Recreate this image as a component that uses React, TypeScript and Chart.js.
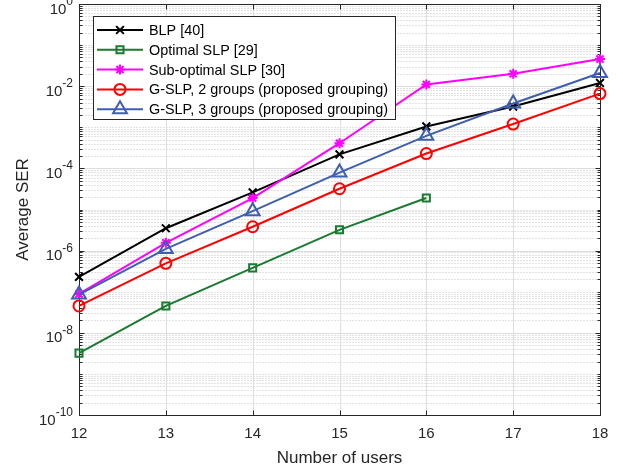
import React, { useEffect, useRef } from "react";
import { Chart, registerables } from "chart.js";
import { drawPoint } from "chart.js/helpers";

Chart.register(...registerables);

const users = [12, 13, 14, 15, 16, 17, 18];
const blp = [2.3e-7, 3.5e-6, 2.6e-5, 2.2e-4, 1.05e-3, 3.2e-3, 1.2e-2];
const optimalSlp = [3.2e-9, 4.5e-8, 3.8e-7, 3.2e-6, 1.9e-5];
const subOptimalSlp = [8.8e-8, 1.55e-6, 1.9e-5, 4.1e-4, 1.1e-2, 2.0e-2, 4.6e-2];
const gslp2 = [4.5e-8, 4.9e-7, 3.8e-6, 3.2e-5, 2.3e-4, 1.2e-3, 6.6e-3];
const gslp3 = [8.5e-8, 1.1e-6, 9.1e-6, 7.9e-5, 6.2e-4, 3.8e-3, 2.1e-2];

const seriesNames = [
  "BLP [40]",
  "Optimal SLP [29]",
  "Sub-optimal SLP [30]",
  "G-SLP, 2 groups (proposed grouping)",
  "G-SLP, 3 groups (proposed grouping)",
];
const xTickLabels = ["12", "13", "14", "15", "16", "17", "18"];
const yLabelExponents = [-10, -8, -6, -4, -2, 0];
const xTitle = "Number of users";
const yTitle = "Average SER";

const FONT = "'Liberation Sans', Arial, Helvetica, sans-serif";
const AXIS = "#262626";

const toPoints = (vals: number[]) => vals.map((v, i) => ({ x: users[i], y: v }));

const gridPlugin = {
  id: "matlabGrid",
  beforeDatasetsDraw(chart: any) {
    const { ctx, chartArea, scales } = chart;
    const { left, right, top, bottom } = chartArea;
    const x = scales.x;
    const y = scales.y;
    const L = Math.round(left) + 0.5;
    const R = Math.round(right) + 0.5;
    const T = Math.round(top) + 0.5;
    const B = Math.round(bottom) + 0.5;
    ctx.save();
    ctx.lineWidth = 1;
    // minor horizontal dotted grid
    ctx.strokeStyle = "#c4c4c4";
    ctx.setLineDash([1, 2]);
    const minorVals: number[] = [];
    for (let e = -10; e < 0; e++) {
      for (let k = 1; k <= 9; k++) {
        if (k === 1 && e % 2 === 0) continue;
        minorVals.push(k * Math.pow(10, e));
      }
    }
    ctx.beginPath();
    for (const v of minorVals) {
      const py = Math.round(y.getPixelForValue(v)) + 0.5;
      ctx.moveTo(L, py);
      ctx.lineTo(R, py);
    }
    ctx.stroke();
    // major grid
    ctx.setLineDash([]);
    ctx.strokeStyle = "#dedede";
    ctx.beginPath();
    for (const e of yLabelExponents) {
      const py = Math.round(y.getPixelForValue(Math.pow(10, e))) + 0.5;
      ctx.moveTo(L, py);
      ctx.lineTo(R, py);
    }
    for (const u of users) {
      const px = Math.round(x.getPixelForValue(u)) + 0.5;
      ctx.moveTo(px, T);
      ctx.lineTo(px, B);
    }
    ctx.stroke();
    // box
    ctx.strokeStyle = AXIS;
    ctx.strokeRect(L, T, R - L, B - T);
    // ticks
    ctx.beginPath();
    for (const u of users) {
      const px = Math.round(x.getPixelForValue(u)) + 0.5;
      ctx.moveTo(px, B);
      ctx.lineTo(px, B - 5);
      ctx.moveTo(px, T);
      ctx.lineTo(px, T + 5);
    }
    for (const e of yLabelExponents) {
      const py = Math.round(y.getPixelForValue(Math.pow(10, e))) + 0.5;
      ctx.moveTo(L, py);
      ctx.lineTo(L + 5, py);
      ctx.moveTo(R, py);
      ctx.lineTo(R - 5, py);
    }
    for (const v of minorVals) {
      const py = Math.round(y.getPixelForValue(v)) + 0.5;
      ctx.moveTo(L, py);
      ctx.lineTo(L + 3, py);
      ctx.moveTo(R, py);
      ctx.lineTo(R - 3, py);
    }
    ctx.stroke();

    // tick labels
    ctx.fillStyle = AXIS;
    ctx.font = `15px ${FONT}`;
    ctx.textAlign = "center";
    ctx.textBaseline = "alphabetic";
    users.forEach((u, i) => {
      const px = x.getPixelForValue(u);
      ctx.fillText(xTickLabels[i], px, bottom + 23);
    });
    ctx.textAlign = "left";
    for (const e of yLabelExponents) {
      const py = y.getPixelForValue(Math.pow(10, e));
      const sup = `${e}`;
      ctx.font = `12px ${FONT}`;
      const supW = ctx.measureText(sup).width;
      ctx.font = `15px ${FONT}`;
      const baseW = ctx.measureText("10").width;
      const endX = left - 6;
      ctx.fillText("10", endX - supW - baseW, py + 9.5);
      ctx.font = `12px ${FONT}`;
      ctx.fillText(sup, endX - supW, py + 1);
    }
    // axis titles
    ctx.font = `17px ${FONT}`;
    ctx.textAlign = "center";
    ctx.fillText(xTitle, (left + right) / 2, bottom + 48);
    ctx.save();
    ctx.translate(23, (top + bottom) / 2);
    ctx.rotate(-Math.PI / 2);
    ctx.textBaseline = "middle";
    ctx.fillText(yTitle, 0, 0);
    ctx.restore();
    ctx.restore();
  },
};

const legendPlugin = {
  id: "matlabLegend",
  afterDatasetsDraw(chart: any) {
    const { ctx } = chart;
    const bx = 93.5, by = 16.5, bw = 302, bh = 103;
    ctx.save();
    ctx.fillStyle = "#ffffff";
    ctx.fillRect(bx, by, bw, bh);
    ctx.strokeStyle = AXIS;
    ctx.lineWidth = 1;
    ctx.setLineDash([]);
    ctx.strokeRect(bx, by, bw, bh);
    chart.data.datasets.forEach((ds: any, i: number) => {
      const yc = 30 + i * 19.8;
      ctx.strokeStyle = ds.borderColor;
      ctx.lineWidth = 2;
      ctx.beginPath();
      ctx.moveTo(97, yc);
      ctx.lineTo(143, yc);
      ctx.stroke();
      ctx.fillStyle = "rgba(0,0,0,0)";
      ctx.lineWidth = ds.pointBorderWidth;
      drawPoint(ctx, { pointStyle: ds.pointStyle, radius: ds.pointRadius, rotation: 0, borderWidth: ds.pointBorderWidth }, 120, yc);
      ctx.fillStyle = "#000000";
      ctx.font = `14.4px ${FONT}`;
      ctx.textAlign = "left";
      ctx.textBaseline = "middle";
      ctx.fillText(seriesNames[i], 149, yc + 1);
    });
    ctx.restore();
  },
};

const colors = ["#000000", "#1a7a30", "#ff00ff", "#ff0000", "#3f5fae"];
const styles = ["crossRot", "rect", "star", "circle", "triangle"];
const radii = [5.5, 5, 5, 5.5, 8];
const seriesData = [blp, optimalSlp, subOptimalSlp, gslp2, gslp3];

export default function App() {
  const ref = useRef<HTMLCanvasElement>(null);
  useEffect(() => {
    if (!ref.current) return;
    const chart = new Chart(ref.current, {
      type: "line",
      data: {
        datasets: seriesData.map((vals, i) => ({
          label: seriesNames[i],
          data: toPoints(vals),
          borderColor: colors[i],
          backgroundColor: colors[i],
          borderWidth: 2,
          pointStyle: styles[i],
          pointRadius: radii[i],
          pointBorderWidth: 2,
          pointBorderColor: colors[i],
          pointBackgroundColor: "rgba(0,0,0,0)",
          pointHoverRadius: radii[i],
          fill: false,
          tension: 0,
          clip: false,
          order: 5 - i,
        })),
      },
      options: {
        animation: false,
        responsive: false,
        devicePixelRatio: 1,
        layout: { autoPadding: false, padding: { left: 79, right: 23, top: 4, bottom: 57 } },
        plugins: { legend: { display: false }, tooltip: { enabled: false } },
        events: [],
        scales: {
          x: { type: "linear", min: 12, max: 18, display: false },
          y: { type: "logarithmic", min: 1e-10, max: 1, display: false },
        },
      } as any,
      plugins: [gridPlugin, legendPlugin],
    });
    return () => chart.destroy();
  }, []);
  return (
    <div style={{ position: "absolute", left: 0, top: 0, width: 623, height: 472, background: "#ffffff" }}>
      <canvas ref={ref} width={623} height={472} />
    </div>
  );
}
